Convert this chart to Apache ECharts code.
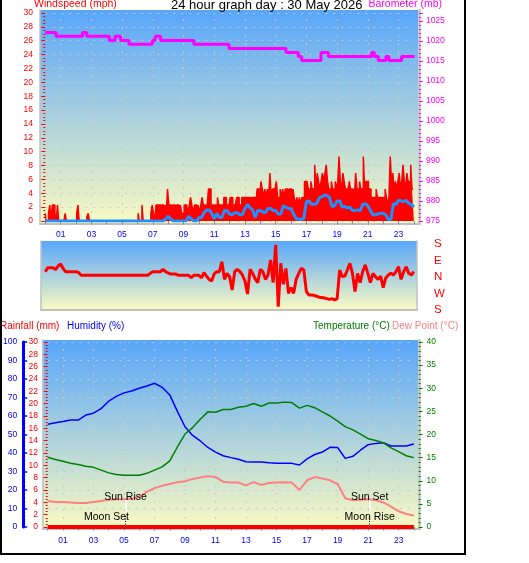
<!DOCTYPE html>
<html><head><meta charset="utf-8">
<script src="https://cdn.jsdelivr.net/npm/echarts@6/dist/echarts.min.js"></script>
<style>html,body{margin:0;padding:0;background:#fff}#c{width:529px;height:563px}</style>
</head><body><div id="c"></div>
<script>
const FONT = 'Liberation Sans, Arial, sans-serif';

// ---- tick labels ----
const oddHours = [1,3,5,7,9,11,13,15,17,19,21,23];
const hourLabels = ['01','03','05','07','09','11','13','15','17','19','21','23'];
const dirLabelValues = [-180,-90,0,90,180];
const dirLabels = ['S','W','N','E','S'];

// ---- windspeed gust (mph), 5-minute samples, one row per hour ----
const gust5 = [].concat(
  [1.1,0,0,1.1,2.3,0,2.3,2.3,1.1,0,2.3,0],
  [0,0,0,0,1.1,0,0,0,0,0,0,0],
  [0,1.1,2.3,0,0,0,0,0,0,0.6,1.1,0],
  [0,0,0,0,0,0,0,0,0,0,0,0],
  [0,0,0,0,0,0,0,0,0,0,0,0],
  [0,0,0,0,0,0,0,0,0,0,0,0],
  [0,1.1,0,0,2.3,0,0,0,0,0,0,1.1],
  [2.3,1.1,0,2.3,2.3,2.3,2.3,2.3,2.3,0,2.3,1.1],
  [4.6,2.3,2.3,1.1,2.3,2.3,1.1,2.3,2.3,1.1,2.3,1.1],
  [1.1,2.3,2.3,2.3,1.1,2.3,3.4,2.3,1.1,2.3,2.3,1.1],
  [2.3,1.1,2.3,3.4,2.3,2.3,1.1,2.3,4.6,4.6,2.3,2.3],
  [1.1,2.3,2.3,3.4,2.3,2.3,2.3,2.3,3.4,3.4,2.3,2.3],
  [2.3,3.4,3.4,2.3,2.3,2.3,3.4,3.4,2.3,2.3,3.4,3.4],
  [3.4,3.4,3.4,3.4,2.3,3.4,3.4,3.4,3.4,2.3,4.6,4.6],
  [3.4,5.7,4.6,3.4,4.6,3.4,4.6,3.4,6.9,3.4,4.6,4.6],
  [4.6,5.7,3.4,3.4,4.6,3.4,4.6,3.4,4.6,4.6,3.4,4.6],
  [4.6,3.4,4.6,3.4,2.3,3.4,2.3,3.4,2.3,3.4,3.4,5.7],
  [5.7,5.7,4.6,4.6,5.7,4.6,4.6,8.1,4.6,6.9,5.7,4.6],
  [5.7,6.9,5.7,6.9,8.1,5.7,4.6,4.6,5.7,4.6,4.6,5.7],
  [4.6,5.7,9.3,5.7,4.6,6.9,5.7,4.6,4.6,4.6,5.7,4.6],
  [4.6,4.6,3.4,6.9,4.6,4.6,5.7,4.6,4.6,9.3,4.6,5.7],
  [5.7,4.6,4.6,3.4,3.4,3.4,3.4,4.6,3.4,3.4,3.4,3.4],
  [3.4,3.4,4.6,3.4,2.3,3.4,9.3,5.7,6.9,4.6,5.7,4.6],
  [5.7,6.9,4.6,5.7,8.1,5.7,4.6,6.9,5.7,5.7,8.1,4.6],
  [4.6]
);

// ---- windspeed average (mph), 10-minute samples ----
const avg10 = [].concat(
  [0,0,0,0,0,0],[0,0,0,0,0,0],[0,0,0,0,0,0],[0,0,0,0,0,0],
  [0,0,0,0,0,0],[0,0,0,0,0,0],[0,0,0,0,0,0],
  [0,0,0,0,0,0.3],
  [0.7,0.3,0,0,0,0],
  [0,0,0.7,0.3,0,0],
  [0.5,0.5,1.2,1.6,1.6,1.1],
  [0.3,1.1,0.5,0.5,1.5,1.5],
  [1.0,0.9,1.2,1.2,0.9,0.9],
  [1.8,2.4,1.9,1.6,0.5,1.5],
  [1.5,1.3,1.2,1.8,1.8,1.5],
  [1.5,1.0,1.0,2.2,2.0,1.8],
  [1.8,1.0,0.3,0.3,0.2,0.4],
  [2.8,2.9,2.4,2.4,2.5,3.3],
  [3.5,3.7,3.7,3.4,2.1,2.2],
  [2.9,2.9,2.0,2.1,1.9,2.0],
  [1.5,1.5,1.6,1.5,2.4,2.5],
  [2.2,1.5,0.9,0.9,1.0,1.1],
  [1.1,0.9,0.2,0.2,2.5,2.4],
  [3.0,2.9,2.8,3.0,2.5,2.4],
  [2.0]
);

// ---- barometer (mb): change times (h) and levels ----
const baroTimes  = [0,0.7,2.43,2.7,4.17,4.54,4.9,5.45,6.97,7.14,7.51,9.68,11.96,15.67,16.47,16.69,17.95,18.43,21.25,21.42,21.68,22.18,22.37,23.2,24.05];
const baroValues = [1022.1,1021.2,1022.1,1021.2,1020.1,1021.2,1020.1,1019.2,1020.1,1021.2,1020.1,1019.2,1018.1,1017.1,1016.1,1015.1,1017.1,1016.1,1017.1,1016.1,1015.1,1016.1,1015.1,1016.1,1016.1];

// ---- wind direction (deg, east positive / west negative from north), 10-minute samples ----
const dir10 = [].concat(
  [29,51,51,51,40,60],
  [71,45,29,29,29,29],
  [29,25,9,9,9,9],
  [9,9,9,9,9,9],
  [9,9,9,9,9,9],
  [9,9,9,9,9,9],
  [9,9,9,9,9,20],
  [29,29,29,29,42,29],
  [22,16,16,16,9,9],
  [9,9,9,-4,9,9],
  [9,-4,24,5,-13,-22],
  [18,29,29,84,-13,20],
  [2,-71,29,42,30,11],
  [-22,-93,42,20,-10,-31],
  [42,29,-13,11,93,-31],
  [175,-162,75,-40,47,-89],
  [-58,-89,-13,20,47,38],
  [-80,-98,-98,-100,-105,-110],
  [-112,-115,-118,-122,-118,-125],
  [-118,38,2,5,38,75],
  [20,-80,20,-31,30,66],
  [20,-31,20,2,-13,5],
  [-58,-5,11,20,11,29],
  [56,-13,29,56,20,11],
  [29]
);

// ---- bottom panel, 30-minute samples ----
const humidity = [55.5,56.4,57,57.8,57.8,60.5,61.5,64,68,70.6,72.5,73.5,75,76.2,77.7,75.5,71.4,62.5,54.2,49.5,46.5,43,40.5,38.5,37.5,36.6,35.3,35.1,35.1,34.7,34.5,34.5,34.4,33.5,36.8,39.2,40.5,43.1,43,37.1,38.2,41.5,44.5,45.2,45.6,43.8,43.8,43.8,44.9];
const temperature = [15.1,14.6,14.2,13.8,13.5,13.15,12.9,12.3,11.7,11.35,11.2,11.2,11.2,11.6,12.3,13.0,14.3,17.3,20.1,21.5,23.3,24.9,24.8,25.4,25.4,25.9,26.1,26.7,26.1,26.8,26.8,27.0,26.9,25.7,26.3,25.8,24.9,24.0,22.9,21.7,21.0,20.1,19.1,18.7,18.2,17.1,16.3,15.4,15.0];
const dewPoint = [5.6,5.4,5.4,5.3,5.2,5.2,5.4,5.6,5.9,6.0,6.0,6.1,6.5,7.6,8.4,8.9,9.3,9.7,9.9,10.4,10.7,11.0,10.8,9.8,9.6,9.6,9.0,9.7,9.1,9.5,9.6,9.7,9.6,8.0,10.1,10.8,10.5,10.1,9.3,6.2,5.8,5.9,6.0,5.8,5.3,4.4,3.4,2.8,2.5];
// hourly rainfall (mm)
const rainfall = [0,0,0,0,0,0,0,0,0,0,0,0,0,0,0,0,0,0,0,0,0,0,0,0,0];

// ---- sun / moon events ----
const eventNames = ['Sun Rise','Moon Set','Sun Set','Moon Rise'];
const eventTimes = [5.1, 3.85, 21.1, 21.1];

// ---------- build ----------
const gustData = gust5.map((v,i)=>[i*5/60, v]);
const avgData = avg10.map((v,i)=>[i*10/60, v]);
const dirData = dir10.map((v,i)=>[i*10/60, v]);
const baroData = baroTimes.map((t,i)=>[t, baroValues[i]]);
const half = arr => arr.map((v,i)=>[i*0.5, v]);
const rainData = rainfall.map((v,i)=>[i, v]);

const grad = {type:'linear',x:0,y:0,x2:0,y2:1,colorStops:[{offset:0,color:'#58a6fa'},{offset:1,color:'#fafac2'}]};
const GRAY = '#c0c0c0';
const gridLineStyle = {color:'rgba(200,200,200,0.95)', type:[2,6], width:1};
const hourFmt = v => { const k = oddHours.indexOf(Math.round(v)); return (k>=0 && Math.abs(v-Math.round(v))<1e-6) ? hourLabels[k] : ''; };
const dirFmt = v => { const k = dirLabelValues.indexOf(Math.round(v)); return k>=0 ? dirLabels[k] : ''; };
const plainFmt = v => String(v);
const baroFmt = v => (v % 5 === 0 ? String(v) : '');
const lbl = (color, extra) => Object.assign({color, fontSize:8.5, fontFamily:FONT, formatter:plainFmt}, extra||{});
const head = (color, size) => ({color, fontSize:size, fontWeight:'normal', fontFamily:FONT});

function bgAxes(gi, xOff, leftW, rightW, leftOff, rightOff) {
  return {
    x: {gridIndex:gi, type:'value', min:0, max:1, offset:xOff, axisLine:{show:true, lineStyle:{color:GRAY, width:2}}, axisTick:{show:false}, axisLabel:{show:false}, splitLine:{show:false}},
    yl: {gridIndex:gi, type:'value', position:'left', min:0, max:1, offset:leftOff, axisLine:{show:leftW>0, lineStyle:{color:GRAY, width:leftW}}, axisTick:{show:false}, axisLabel:{show:false}, splitLine:{show:false}},
    yr: {gridIndex:gi, type:'value', position:'right', min:0, max:1, offset:rightOff, axisLine:{show:true, lineStyle:{color:GRAY, width:rightW}}, axisTick:{show:false}, axisLabel:{show:false}, splitLine:{show:false}}
  };
}
const b0 = bgAxes(0, 0.5, 1.5, 2.5, 1, 1);
const b2 = bgAxes(2, 0, 1.5, 1.5, 0, 0);
const b4 = bgAxes(4, 0.5, 1.5, 2.5, 1, 1);

const hourAxis = (gi, off, show) => ({
  gridIndex:gi, type:'value', min:0, max:24, interval:1, offset:off, show:show,
  axisLine:{show:false},
  axisTick:{show:true, length:3.5, lineStyle:{color:'#8a8aa8', width:1}},
  axisLabel:{show:true, formatter:hourFmt, margin:6, color:'#0000ff', fontSize:8.5, fontFamily:FONT},
  splitLine:{show:false}
});

const xAxes = [
  b0.x,                       // 0
  hourAxis(1, 3, true),       // 1
  b2.x,                       // 2
  hourAxis(3, 0, false),      // 3
  b4.x,                       // 4
  hourAxis(5, 3.5, true)      // 5
];
const yAxes = [
  b0.yl, b0.yr,                                         // 0,1
  { // 2 windspeed
    gridIndex:1, type:'value', position:'left', min:0, max:30, interval:2, offset:6.3,
    axisLine:{show:false},
    axisTick:{show:true, length:4, lineStyle:{color:'#ff0000'}},
    minorTick:{show:true, splitNumber:4, length:2, lineStyle:{color:'#ff0000'}},
    axisLabel:lbl('#ff0000',{margin:6}),
    splitLine:{show:true, lineStyle:gridLineStyle}
  },
  { // 3 barometer
    gridIndex:1, type:'value', position:'right', min:975, max:1027, interval:5, offset:5,
    axisLine:{show:false},
    axisTick:{show:true, length:4, lineStyle:{color:'#ff00ff'}},
    minorTick:{show:true, splitNumber:5, length:2, lineStyle:{color:'#ff00ff'}},
    axisLabel:lbl('#ff00ff',{margin:7, showMaxLabel:false, formatter:baroFmt}),
    splitLine:{show:false}
  },
  b2.yl, b2.yr,                                         // 4,5
  { // 6 direction
    gridIndex:3, type:'value', position:'right', min:-180, max:180, interval:90,
    axisLine:{show:false}, axisTick:{show:false}, splitLine:{show:false},
    axisLabel:{formatter:dirFmt, margin:20, color:'#ff0000', fontSize:11.5, fontFamily:FONT}
  },
  b4.yl, b4.yr,                                         // 7,8
  { // 9 rainfall
    gridIndex:5, type:'value', position:'left', min:0, max:30, interval:2, offset:3.8,
    axisLine:{show:false},
    axisTick:{show:true, length:4, lineStyle:{color:'#ff0000'}},
    minorTick:{show:true, splitNumber:4, length:2, lineStyle:{color:'#ff0000'}},
    axisLabel:lbl('#ff0000',{margin:6}),
    splitLine:{show:false}
  },
  { // 10 humidity
    gridIndex:5, type:'value', position:'left', min:0, max:100, interval:10, offset:24.5,
    axisLine:{show:true, lineStyle:{color:'#0000ff', width:3}},
    axisTick:{show:true, inside:true, length:4, lineStyle:{color:'#0000ff', width:1.5}},
    minorTick:{show:true, splitNumber:5, length:2, lineStyle:{color:'#0000ff'}},
    axisLabel:lbl('#0000ff',{margin:6}),
    splitLine:{show:true, lineStyle:gridLineStyle}
  },
  { // 11 temperature
    gridIndex:5, type:'value', position:'right', min:0, max:40, interval:5, offset:4.7,
    axisLine:{show:false},
    axisTick:{show:true, length:4, lineStyle:{color:'#008000'}},
    minorTick:{show:true, splitNumber:5, length:2, lineStyle:{color:'#008000'}},
    axisLabel:lbl('#008000',{margin:8}),
    splitLine:{show:false}
  }
];

const vGrid = {silent:true, z:1, symbol:['none','none'], animation:false, label:{show:false},
  lineStyle:gridLineStyle, data: oddHours.map(h=>({xAxis:h}))};

// event lines and labels (rain axis units)
const evLines = [];
const evLabels = [];
eventNames.forEach((name,i)=>{
  const t = eventTimes[i];
  const isSun = name.indexOf('Sun')===0;
  if (isSun) evLines.push([{coord:[t,2.5], lineStyle:{color:'#ffffff', width:1.5, type:'solid'}},{coord:[t,4.3]}]);
  if (name.indexOf('Rise')>0) evLines.push([{coord:[t,0], lineStyle:{color:'#000000', width:1, type:[1,1.5]}},{coord:[t,2.0]}]);
  if (name==='Moon Set') evLines.push([{coord:[t,-0.3], lineStyle:{color:'#ffffff', width:1.5, type:'solid'}},{coord:[t,1.1]}]);
  evLabels.push({name:name, coord:[t, isSun ? 4.8 : 1.6]});
});

const option = {
  animation:false,
  backgroundColor:'#ffffff',
  title:[
    {text:'24 hour graph day : 30 May 2026', left:171, top:-1, padding:0, textStyle:head('#000', 13)},
    {text:'Windspeed (mph)', left:34, top:-1, padding:0, textStyle:head('#ff0000', 10.5)},
    {text:'Barometer (mb)', right:87, top:-1, padding:0, textStyle:head('#ff00ff', 10.5)},
    {text:'Rainfall (mm)', left:0, top:321, padding:0, textStyle:head('#ff0000', 10)},
    {text:'Humidity (%)', left:67, top:321, padding:0, textStyle:head('#0000ff', 10)},
    {text:'Temperature (°C)', left:313, top:321, padding:0, textStyle:head('#008000', 10)},
    {text:'Dew Point (°C)', left:392, top:321, padding:0, textStyle:head('#ff8080', 10)}
  ],
  graphic:[{type:'rect', z:100, silent:true, shape:{x:1, y:-1, width:464, height:555}, style:{fill:'none', stroke:'#000', lineWidth:2}}],
  grid:[
    {left:40, top:10, width:378, height:214, show:true, backgroundColor:grad, borderWidth:0},     // 0 top bg
    {left:45.3, top:13, width:368.6, height:208, show:false},                                      // 1 top data
    {left:41, top:241, width:376, height:68.5, show:true, backgroundColor:grad, borderWidth:0},  // 2 mid bg
    {left:45.3, top:244, width:368.6, height:66, show:false},                                      // 3 mid data
    {left:42.5, top:340, width:375.5, height:189, show:true, backgroundColor:grad, borderWidth:0},// 4 bottom bg
    {left:45.3, top:342, width:368.6, height:185, show:false}                                      // 5 bottom data
  ],
  xAxis:xAxes,
  yAxis:yAxes,
  series:[
    {name:'Gust', type:'line', xAxisIndex:1, yAxisIndex:2, data:gustData, step:'middle', symbol:'none', z:2,
      lineStyle:{color:'#ff0000', width:1.5}, areaStyle:{color:'#ff0000', opacity:1}, markLine:vGrid},
    {name:'Average', type:'line', xAxisIndex:1, yAxisIndex:2, data:avgData, symbol:'none', z:3,
      lineStyle:{color:'#1e90ff', width:3}},
    {name:'Barometer', type:'line', xAxisIndex:1, yAxisIndex:3, data:baroData, step:'end', symbol:'none', z:4,
      lineStyle:{color:'#ff00ff', width:3}},
    {name:'Direction', type:'line', xAxisIndex:3, yAxisIndex:6, data:dirData, symbol:'none', z:3,
      lineStyle:{color:'#ff0000', width:3}},
    {name:'Humidity', type:'line', xAxisIndex:5, yAxisIndex:10, data:half(humidity), symbol:'none', z:3,
      lineStyle:{color:'#0000ff', width:1.5}, markLine:vGrid},
    {name:'Temperature', type:'line', xAxisIndex:5, yAxisIndex:11, data:half(temperature), symbol:'none', z:3,
      lineStyle:{color:'#008000', width:1.5}},
    {name:'Dew Point', type:'line', xAxisIndex:5, yAxisIndex:11, data:half(dewPoint), symbol:'none', z:3,
      lineStyle:{color:'#ff8080', width:2}},
    {name:'Rainfall', type:'line', xAxisIndex:5, yAxisIndex:9, data:rainData, symbol:'none', z:4,
      lineStyle:{color:'#ff0000', width:4},
      markLine:{silent:true, symbol:['none','none'], animation:false, label:{show:false}, data:evLines},
      markPoint:{silent:true, animation:false, symbol:'rect', symbolSize:1, itemStyle:{color:'rgba(0,0,0,0)'},
        label:{show:true, position:'inside', formatter:'{b}', color:'#000', fontSize:10.5, fontFamily:FONT},
        data:evLabels}}
  ]
};
const chart = echarts.init(document.getElementById('c'), null, {renderer:'canvas'});
chart.setOption(option);
</script>
</body></html>
